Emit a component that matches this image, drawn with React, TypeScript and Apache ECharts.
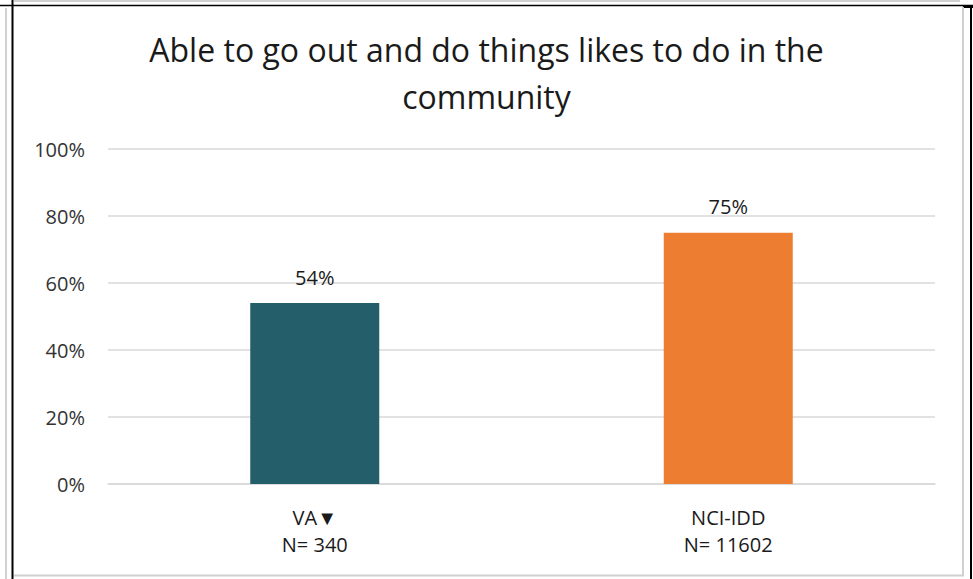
import React, { useEffect, useRef } from "react";
import * as echarts from "echarts";

const titleLines = ["Able to go out and do things likes to do in the", "community"];
const categories = ["VA▼\nN= 340", "NCI-IDD\nN= 11602"];
const values = [54, 75];
const barColors = ["#255E6B", "#ED7D31"];
const yTicks = [0, 20, 40, 60, 80, 100];

const FONT = "Open Sans";

export default function App() {
  const ref = useRef<HTMLDivElement>(null);
  useEffect(() => {
    const chart = echarts.init(ref.current!, null, { renderer: "svg" });
    chart.setOption({
      animation: false,
      backgroundColor: "#ffffff",
      title: {
        text: titleLines.join("\n"),
        left: "center",
        top: 21,
        textStyle: {
          fontFamily: FONT,
          fontSize: 32,
          fontWeight: "normal",
          color: "#1a1a1a",
          lineHeight: 47,
        },
      },
      grid: { left: 108, right: 38, top: 149, bottom: 95 },
      xAxis: {
        type: "category",
        data: categories,
        axisLine: { lineStyle: { color: "#D9D9D9", width: 1.5 } },
        axisTick: { show: false },
        axisLabel: {
          margin: 20,
          fontFamily: FONT,
          fontSize: 20,
          color: "#1a1a1a",
          lineHeight: 27,
        },
      },
      yAxis: {
        type: "value",
        min: 0,
        max: 100,
        interval: 20,
        axisLine: { show: false },
        axisTick: { show: false },
        splitLine: { lineStyle: { color: "#D9D9D9", width: 1.5 } },
        axisLabel: {
          margin: 23,
          fontFamily: FONT,
          fontSize: 20,
          color: "#333333",
          formatter: (v: number) => (yTicks.includes(v) ? v + "%" : ""),
        },
      },
      series: [
        {
          type: "bar",
          barWidth: 129,
          data: values.map((v, i) => ({ value: v, itemStyle: { color: barColors[i] } })),
          label: {
            show: true,
            position: "top",
            distance: 16,
            fontFamily: FONT,
            fontSize: 20,
            color: "#1a1a1a",
            formatter: (p: any) => p.value + "%",
          },
        },
      ],
      graphic: [
        { type: "line", shape: { x1: 6, y1: 8, x2: 6, y2: 579 }, style: { stroke: "#D0D0D0", lineWidth: 2 } },
        { type: "line", shape: { x1: 14, y1: 1, x2: 960, y2: 1 }, style: { stroke: "#D0D0D0", lineWidth: 2 } },
        { type: "line", shape: { x1: 0, y1: 5.5, x2: 973, y2: 5.5 }, style: { stroke: "#000000", lineWidth: 1.5 } },
        { type: "line", shape: { x1: 12.5, y1: 0, x2: 12.5, y2: 579 }, style: { stroke: "#000000", lineWidth: 2 } },
        { type: "line", shape: { x1: 971, y1: 5, x2: 971, y2: 579 }, style: { stroke: "#000000", lineWidth: 2 } },
        { type: "line", shape: { x1: 963, y1: 6.5, x2: 973, y2: 6.5 }, style: { stroke: "#000000", lineWidth: 3 } },
        { type: "line", shape: { x1: 963, y1: 7, x2: 963, y2: 576 }, style: { stroke: "#D0D0D0", lineWidth: 2 } },
        { type: "line", shape: { x1: 14, y1: 575.5, x2: 964, y2: 575.5 }, style: { stroke: "#D0D0D0", lineWidth: 2 } },
      ],
    });
    return () => chart.dispose();
  }, []);
  return (
    <div
      ref={ref}
      style={{ position: "fixed", left: 0, top: 0, width: 973, height: 579, background: "#fff" }}
    />
  );
}
